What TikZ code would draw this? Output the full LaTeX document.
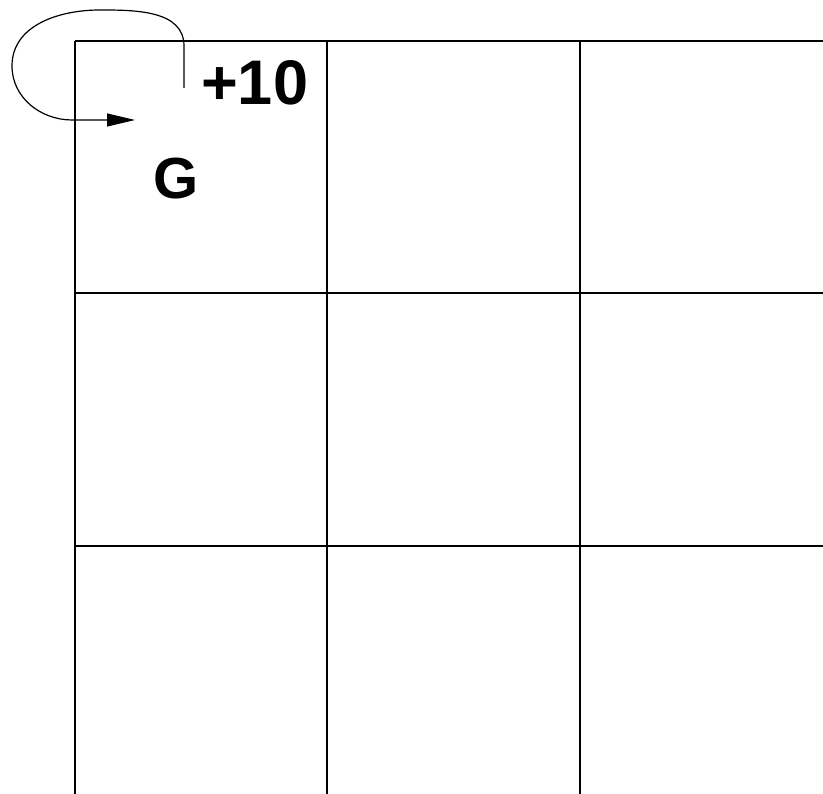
\documentclass[tikz,border=0pt]{standalone}
\usepackage{fontspec}
\setmainfont{Liberation Sans}
\usetikzlibrary{arrows.meta}
\tikzset{
  gridline/.style={line width=1.3pt},
  bigtext/.style={font=\fontsize{#1}{#1}\selectfont\bfseries,inner sep=0pt,anchor=base west}
}

\begin{document}
\begin{tikzpicture}[x=1pt,y=1pt]
        \useasboundingbox (0,0) rectangle (823,794);
        \begin{scope}
          \clip (0,0) rectangle (823,794);
          \foreach \c in {75,327,580,832}{
            \draw[gridline] (\c,-10)--(\c,753);}
          \foreach \r in {753,501,248}{
            \draw[gridline] (75,\r)--(833,\r);}
        \end{scope}
        \node[bigtext=63] (reward) at (201,689) {+10};
        \node[bigtext=58] (goal) at (153,595) {G};
        \coordinate (loopstart) at (184,706);
        \coordinate (loopend) at (135,674);
        \draw[line width=1.2pt,-{Triangle[length=28pt,width=13pt]}] (loopstart)--(184,748)
            to[out=90,in=0] (100,784) to[out=180,in=90] (12,728)
            to[out=270,in=180] (72,674)--(loopend);
      \end{tikzpicture}
\end{document}
